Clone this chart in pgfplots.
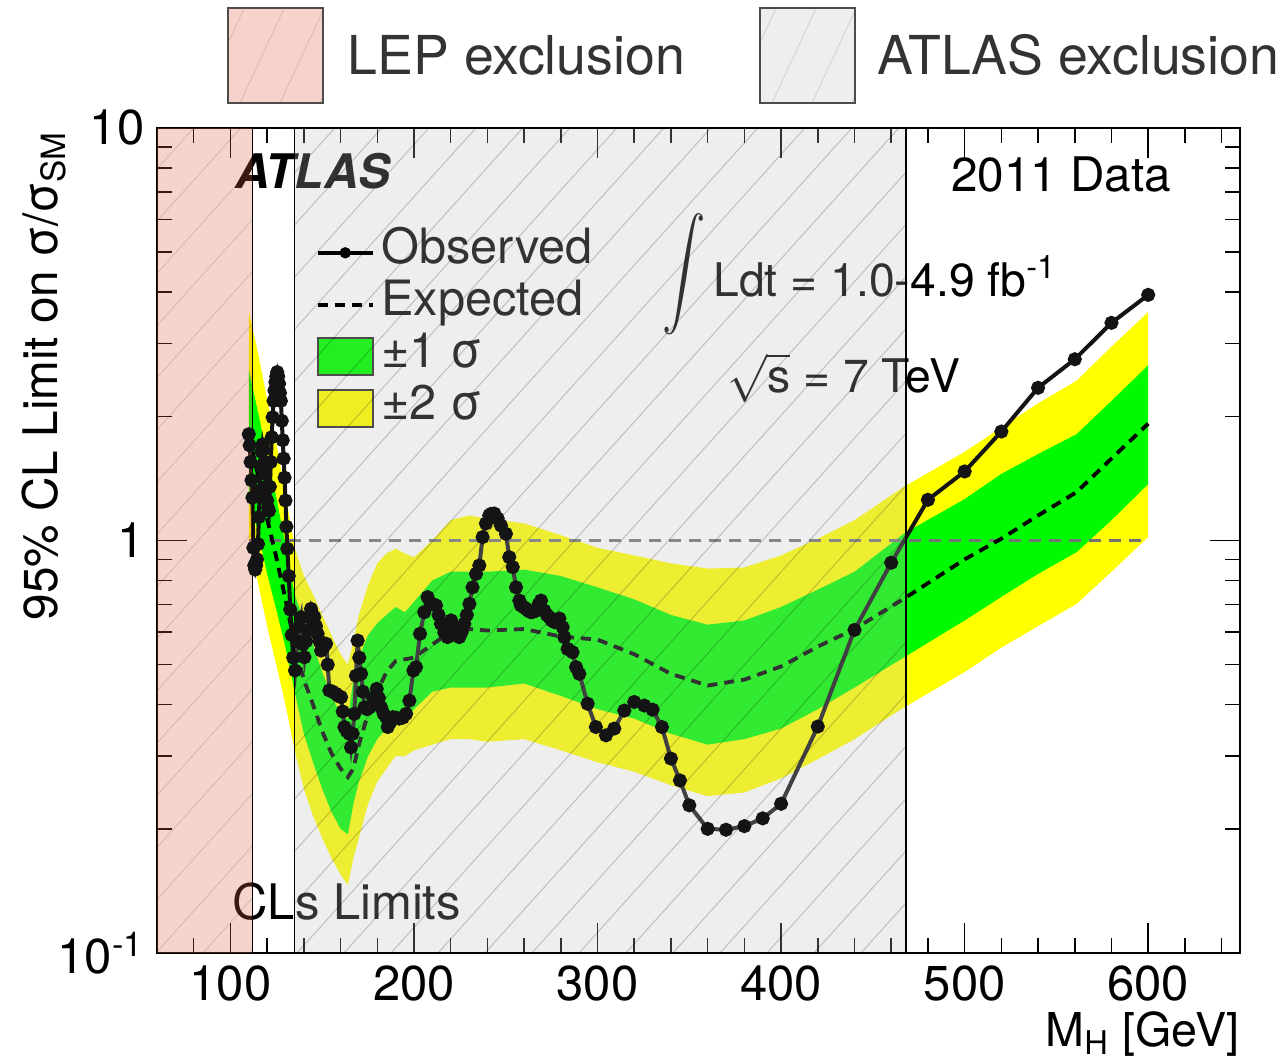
\documentclass[border=0pt]{standalone}
\usepackage{pgfplots}
\pgfplotsset{compat=1.18}
\usepackage{pgfplotstable}
\usepgfplotslibrary{fillbetween}
\usetikzlibrary{calc}
\usepackage{fontspec}
\setmainfont{TeX Gyre Heros}

\definecolor{rgreen}{RGB}{0,250,0}
\definecolor{ryellow}{RGB}{255,255,0}
\definecolor{lepc}{RGB}{217,97,60}
\definecolor{atc}{RGB}{191,191,191}
\definecolor{lepbox}{RGB}{246,210,202}
\definecolor{atbox}{RGB}{238,238,238}

\pgfplotstableread{
m y2lo y1lo exp y1hi y2hi
110 0.99 1.25 1.80 2.60 3.60
115 0.79 1.05 1.44 2.05 2.85
120 0.62 0.83 1.13 1.60 2.20
125 0.50 0.68 0.91 1.27 1.72
130 0.40 0.55 0.72 0.98 1.30
135 0.31 0.43 0.56 0.74 0.96
140 0.25 0.34 0.46 0.64 0.82
145 0.215 0.29 0.40 0.56 0.74
150 0.19 0.25 0.345 0.48 0.66
155 0.17 0.22 0.305 0.42 0.59
160 0.155 0.20 0.28 0.38 0.53
164 0.146 0.194 0.267 0.37 0.50
167 0.17 0.23 0.28 0.46 0.57
170 0.19 0.26 0.32 0.52 0.66
175 0.23 0.30 0.38 0.59 0.78
180 0.26 0.33 0.43 0.63 0.88
185 0.28 0.35 0.48 0.66 0.93
190 0.30 0.36 0.51 0.69 0.955
195 0.30 0.36 0.515 0.67 0.93
200 0.31 0.39 0.52 0.71 0.91
210 0.32 0.43 0.56 0.80 1.00
220 0.33 0.44 0.60 0.84 1.12
230 0.33 0.44 0.61 0.84 1.15
240 0.325 0.44 0.605 0.84 1.13
260 0.33 0.45 0.61 0.85 1.10
280 0.31 0.42 0.585 0.82 1.03
300 0.29 0.39 0.575 0.77 0.96
320 0.275 0.37 0.53 0.72 0.92
340 0.255 0.34 0.475 0.66 0.88
360 0.24 0.32 0.445 0.625 0.855
380 0.245 0.33 0.46 0.64 0.86
400 0.265 0.35 0.495 0.69 0.92
420 0.295 0.39 0.553 0.76 1.01
440 0.33 0.44 0.61 0.84 1.12
467 0.394 0.521 0.723 1.04 1.35
500 0.48 0.64 0.90 1.26 1.64
520 0.55 0.73 1.01 1.45 1.88
540 0.62 0.83 1.15 1.62 2.15
561 0.702 0.937 1.31 1.81 2.44
580 0.84 1.12 1.58 2.18 2.95
600 1.02 1.37 1.92 2.66 3.58
}\bands

\pgfplotstableread{
m obs
110.0 1.81
110.5 1.70
111.0 1.55
111.5 1.40
112.0 1.27
112.5 0.96
113.0 0.87
113.5 0.85
114.0 0.87
114.5 0.90
115.0 0.98
115.5 1.14
116.0 1.32
116.5 1.51
117.0 1.64
117.5 1.71
118.0 1.66
118.5 1.55
119.0 1.45
119.5 1.35
120.0 1.25
120.5 1.20
121.0 1.18
121.5 1.35
122.0 1.55
122.5 1.78
123.0 1.99
123.5 2.18
124.0 2.31
124.5 2.42
125.0 2.50
125.5 2.56
126.0 2.50
126.5 2.40
127.0 2.28
127.5 2.18
128.0 1.95
128.5 1.75
129.0 1.58
129.5 1.42
130.0 1.25
130.5 1.08
131.0 0.955
131.8 0.82
132.6 0.68
133.4 0.59
134.2 0.52
135.2 0.484
136.3 0.57
137.5 0.62
138.5 0.652
139.4 0.56
140.3 0.521
141.2 0.57
142.1 0.605
143.0 0.65
143.9 0.683
144.8 0.66
145.7 0.652
146.6 0.62
147.5 0.594
148.5 0.57
149.4 0.541
150.7 0.55
152.1 0.562
153.0 0.50
153.9 0.433
155.7 0.43
157.5 0.425
158.9 0.42
160.3 0.417
161.2 0.385
162.1 0.353
163.4 0.345
164.8 0.340
165.7 0.315
166.6 0.34
167.5 0.380
168.4 0.47
169.3 0.572
170.2 0.52
171.2 0.475
172.1 0.43
173.0 0.394
174.4 0.39
175.7 0.394
177.7 0.415
179.7 0.437
180.9 0.415
182.1 0.394
183.5 0.38
184.8 0.373
185.7 0.353
187.0 0.362
188.4 0.373
190.2 0.372
192.0 0.370
193.9 0.372
195.7 0.380
197.5 0.409
199.7 0.484
201.1 0.493
203.3 0.594
205.6 0.670
207.4 0.729
209.3 0.702
210.7 0.70
212.0 0.696
213.4 0.66
214.7 0.628
216.5 0.599
218.3 0.583
220.2 0.640
221.5 0.615
222.9 0.589
224.7 0.583
226.0 0.60
227.4 0.628
228.8 0.66
230.2 0.702
231.9 0.770
233.8 0.830
235.6 0.870
237.4 1.019
239.2 1.10
241.0 1.15
242.0 1.160
243.8 1.162
245.6 1.13
247.4 1.087
250.1 1.038
251.9 0.911
253.8 0.862
255.6 0.770
257.4 0.715
258.3 0.696
259.7 0.69
261.0 0.683
262.4 0.675
263.7 0.670
265.1 0.672
266.5 0.676
267.9 0.70
269.2 0.715
271.0 0.676
272.4 0.66
273.7 0.652
275.1 0.64
276.5 0.634
277.9 0.64
279.2 0.647
281.0 0.616
281.9 0.583
283.7 0.546
286.4 0.536
288.3 0.493
290.1 0.475
294.6 0.402
299.1 0.353
304.6 0.337
309.1 0.350
314.6 0.387
320.0 0.406
325.5 0.398
330.0 0.389
335.1 0.353
340.0 0.296
344.9 0.262
350.0 0.228
360.0 0.200
370.0 0.199
380.0 0.203
390.0 0.212
400.0 0.230
420.0 0.354
440.0 0.607
460.0 0.883
480.0 1.255
500.0 1.47
520.0 1.837
540.0 2.345
560.0 2.75
580.0 3.37
600.0 3.94
}\obs

\begin{document}
\begin{tikzpicture}[x=0.3pt,y=0.3pt]
\begin{axis}[
  name=ax,
  at={(47.1pt,33pt)}, anchor=south west,
  scale only axis, width=324.9pt, height=247.5pt,
  xmin=60, xmax=650, ymode=log, ymin=0.1, ymax=10,
  axis line style={line width=0.6pt},
  tick align=inside,
  xtick={100,200,300,400,500,600},
  xticklabels={100,200,300,400,500,600},
  minor xtick={60,80,...,640},
  ytick={0.1,1,10},
  yticklabels={10\textsuperscript{-1},1,10},
  minor ytick={0.2,0.3,0.4,0.5,0.6,0.7,0.8,0.9,2,3,4,5,6,7,8,9},
  major tick length=9pt, minor tick length=4.5pt,
  every tick/.style={black, line width=0.45pt},
  tick label style={font=\fontsize{14.7}{16}\selectfont},
  xticklabel style={inner sep=0pt, yshift=-3.6pt},
  yticklabel style={inner sep=0pt, xshift=-3.6pt},
  legend style={at={(rel axis cs:0.146,0.881)}, anchor=north west,
    draw=none, fill=none, inner sep=0pt, row sep=0pt,
    font=\fontsize{14.6}{16}\selectfont, text=black!80,
    nodes={inner sep=0pt, text height=11pt, text depth=4.6pt},
    /tikz/every odd column/.append style={column sep=2pt}},
  legend cell align=left,
]
\addplot[name path=y2hi, draw=none, forget plot] table[x=m,y=y2hi]{\bands};
\addplot[name path=y2lo, draw=none, forget plot] table[x=m,y=y2lo]{\bands};
\addplot[name path=y1hi, draw=none, forget plot] table[x=m,y=y1hi]{\bands};
\addplot[name path=y1lo, draw=none, forget plot] table[x=m,y=y1lo]{\bands};
\addplot[fill=ryellow, draw=none, forget plot] fill between[of=y2hi and y2lo];
\addplot[fill=rgreen, draw=none, forget plot] fill between[of=y1hi and y1lo];
\addplot[black!55, line width=1pt, dash pattern=on 3.6pt off 2.4pt, forget plot] coordinates {(110,1) (600,1)};
\addplot[black, line width=1.15pt, dash pattern=on 3pt off 2.1pt, forget plot] table[x=m,y=exp]{\bands};
\addplot[black!92, line width=1.2pt, mark=*, mark size=1.5pt, forget plot] table[x=m,y=obs]{\obs};

\addlegendimage{legend image code/.code={\draw[black, line width=1.2pt] (0pt,0pt) -- (16.5pt,0pt); \fill[black] (8.25pt,0pt) circle (1.5pt);}}
\addlegendentry{Observed}
\addlegendimage{legend image code/.code={\draw[black, line width=1.15pt, dash pattern=on 3pt off 2.1pt] (0pt,0pt) -- (16.5pt,0pt);}}
\addlegendentry{Expected}
\addlegendimage{legend image code/.code={\draw[fill={rgb,255:red,34;green,238;blue,34}, draw=black!70, line width=0.6pt] (0pt,-5.5pt) rectangle (16.5pt,5.5pt);}}
\addlegendentry{±1 σ}
\addlegendimage{legend image code/.code={\draw[fill={rgb,255:red,238;green,238;blue,34}, draw=black!70, line width=0.6pt] (0pt,-5.5pt) rectangle (16.5pt,5.5pt);}}
\addlegendentry{±2 σ}

\node[inner sep=0pt, anchor=base west, font=\fontsize{14.3}{16}\selectfont\bfseries\itshape] at (rel axis cs:0.072,0.927) {ATLAS};
\node[inner sep=0pt, anchor=base east, font=\fontsize{14.3}{16}\selectfont] at (rel axis cs:0.937,0.9236) {2011 Data};
\node[inner sep=0pt, anchor=base west, font=\fontsize{14.7}{16}\selectfont] at (rel axis cs:0.069,0.040) {CLs Limits};
\node[inner sep=0pt, anchor=base west, font=\fontsize{13.9}{16}\selectfont] at (rel axis cs:0.466,0.796) {\raisebox{0.6pt}{\scalebox{1.3}[1.64]{$\displaystyle\int$}}\,Ldt = 1.0-4.9 fb\textsuperscript{-1}};
\node[inner sep=0pt, anchor=base west, font=\fontsize{13.9}{16}\selectfont] at (rel axis cs:0.526,0.679) {$\sqrt{\mbox{s}}$ = 7 TeV};

\fill[lepc, fill opacity=0.267] (axis cs:60,0.1) rectangle (axis cs:112,10);
\fill[atc, fill opacity=0.267] (axis cs:135,0.1) rectangle (axis cs:468,10);
\draw[black, line width=0.4pt] (axis cs:112,0.1) -- (axis cs:112,10);
\draw[black, line width=0.4pt] (axis cs:135,0.1) rectangle (axis cs:468,10);
\coordinate (lepSW) at (axis cs:60,0.1);
\coordinate (lepNE) at (axis cs:112,10);
\coordinate (atSW) at (axis cs:135,0.1);
\coordinate (atNE) at (axis cs:468,10);
\end{axis}

% hatching of exclusion regions
\begin{scope}[overlay]
\clip (lepSW) rectangle (lepNE);
\foreach \k in {0,...,50} \draw[black, opacity=0.12, line width=0.3pt] ($(ax.south west)+(\k*47-800,0)$) -- ++(48:1400);
\end{scope}
\begin{scope}[overlay]
\clip (atSW) rectangle (atNE);
\foreach \k in {0,...,50} \draw[black, opacity=0.2, line width=0.3pt] ($(ax.south west)+(\k*47-800,0)$) -- ++(48:1400);
\end{scope}

% axis titles
\node[inner sep=0pt, rotate=90, anchor=base east, font=\fontsize{14.3}{16}\selectfont] at (57,933) {95\% CL Limit on σ/σ\textsubscript{SM}};
\node[inner sep=0pt, anchor=base east, font=\fontsize{14}{16}\selectfont] at (1240,16) {M\textsubscript{H} [GeV]};

% top legend
\fill[lepbox] (228,960) rectangle (323,1055);
\begin{scope}[overlay]\clip (228,960) rectangle (323,1055);
\foreach \k in {0,...,4} \draw[black, opacity=0.1, line width=0.3pt] (200+\k*40,960) -- ++(65:140);
\end{scope}
\draw[black!70, line width=0.5pt] (228,960) rectangle (323,1055);
\fill[atbox] (760,960) rectangle (855,1055);
\begin{scope}[overlay]\clip (760,960) rectangle (855,1055);
\foreach \k in {0,...,4} \draw[black, opacity=0.1, line width=0.3pt] (732+\k*40,960) -- ++(65:140);
\end{scope}
\draw[black!70, line width=0.5pt] (760,960) rectangle (855,1055);
\node[inner sep=0pt, anchor=base west, text=black!80, font=\fontsize{16.1}{18}\selectfont] at (347,988) {LEP exclusion};
\node[inner sep=0pt, anchor=base west, text=black!80, font=\fontsize{16.1}{18}\selectfont] at (877,988) {ATLAS exclusion};
\pgfresetboundingbox
\path[use as bounding box] (0,0) rectangle (1281,1063);
\end{tikzpicture}
\end{document}
